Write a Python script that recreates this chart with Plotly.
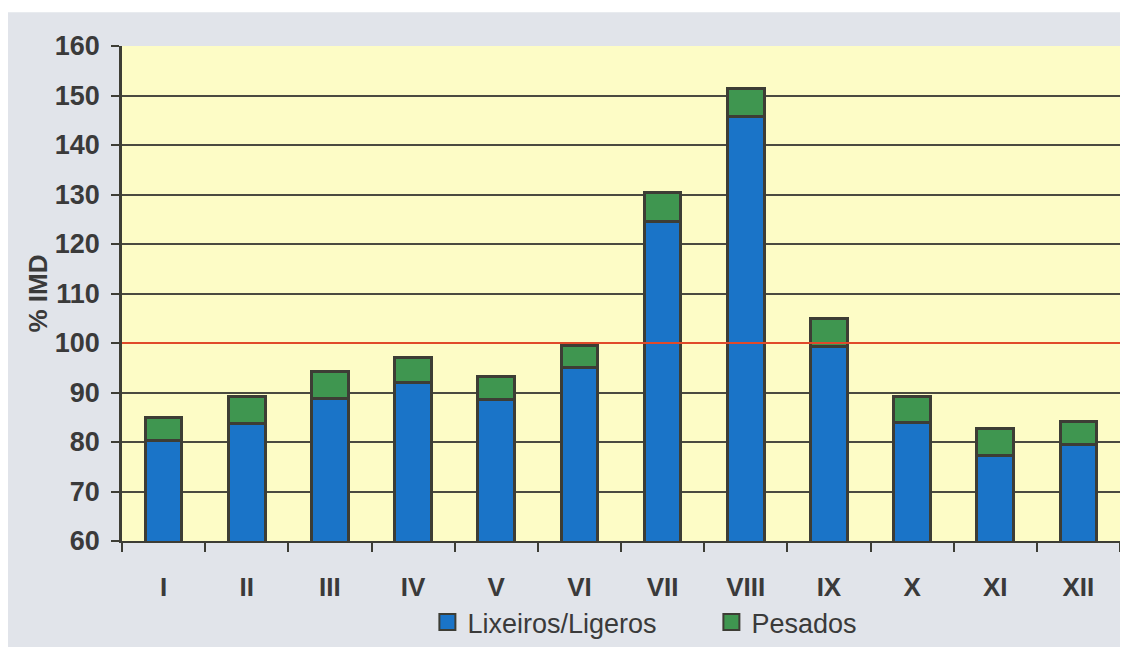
import plotly.graph_objects as go

months = ["I", "II", "III", "IV", "V", "VI", "VII", "VIII", "IX", "X", "XI", "XII"]
ligeros = [80.3, 83.8, 88.7, 92.1, 88.5, 95.0, 124.6, 145.8, 99.2, 84.0, 77.2, 79.5]
pesados = [4.7, 5.3, 5.5, 4.9, 4.8, 4.5, 5.9, 5.6, 5.7, 5.1, 5.5, 4.7]
ref_level = 100

blue = "#1a74c8"
green = "#3f9650"
line_col = "#3d3d35"
txt = "#3a3a3a"
fnt = "Liberation Sans, Arial, sans-serif"

fig = go.Figure()
fig.add_trace(go.Bar(x=months, y=ligeros, name="Lixeiros/Ligeros", showlegend=False,
                     marker=dict(color=blue, line=dict(color=line_col, width=3))))
fig.add_trace(go.Bar(x=months, y=pesados, name="Pesados", showlegend=False,
                     marker=dict(color=green, line=dict(color=line_col, width=3))))
# legend entries with large square symbols
fig.add_trace(go.Scatter(x=[None], y=[None], mode="markers", name="Lixeiros/Ligeros",
                         marker=dict(symbol="square", size=21, color=blue,
                                     line=dict(color=line_col, width=2))))
fig.add_trace(go.Scatter(x=[None], y=[None], mode="markers", name="Pesados",
                         marker=dict(symbol="square", size=21, color=green,
                                     line=dict(color=line_col, width=2))))

fig.add_shape(type="line", xref="paper", x0=0, x1=1, yref="y", y0=ref_level, y1=ref_level,
              line=dict(color="#e04a2a", width=2), layer="above")
# white strip at top (scan border)
fig.add_shape(type="rect", xref="paper", yref="paper", x0=-0.2, x1=1.1, y0=1.068, y1=1.2,
              fillcolor="white", line=dict(width=0), layer="below")

fig.update_layout(
    width=1112, height=639,
    margin=dict(l=114, r=0, t=38, b=94),
    barmode="stack", bargap=0.56,
    paper_bgcolor="#e1e4ea", plot_bgcolor="#fdfcc6",
    font=dict(family=fnt, color=txt),
    showlegend=True,
    legend=dict(orientation="h", x=0.306, xanchor="left", y=-0.115, yanchor="top",
                font=dict(size=27, color=txt), itemwidth=30, traceorder="normal",
                entrywidth=239, entrywidthmode="pixels",
                bgcolor="rgba(0,0,0,0)"),
)
fig.update_xaxes(
    tickfont=dict(size=26, family=fnt, color=txt, weight="bold"),
    showline=True, linecolor=line_col, linewidth=2,
    ticks="outside", tickson="boundaries", ticklen=9, tickwidth=2, tickcolor=line_col,
    ticklabelstandoff=22,
    showgrid=False,
)
fig.update_yaxes(
    range=[60, 160], dtick=10,
    tickfont=dict(size=27, family=fnt, color=txt, weight="bold"),
    title=dict(text="% IMD", font=dict(size=26, color=txt, weight="bold"), standoff=0),
    showline=True, linecolor=line_col, linewidth=2.5,
    ticks="outside", ticklen=8, tickwidth=2, tickcolor=line_col,
    ticklabelstandoff=6,
    showgrid=True, gridcolor="#4a4a40", gridwidth=2,
    zeroline=False,
)

fig.write_html("out.html")
